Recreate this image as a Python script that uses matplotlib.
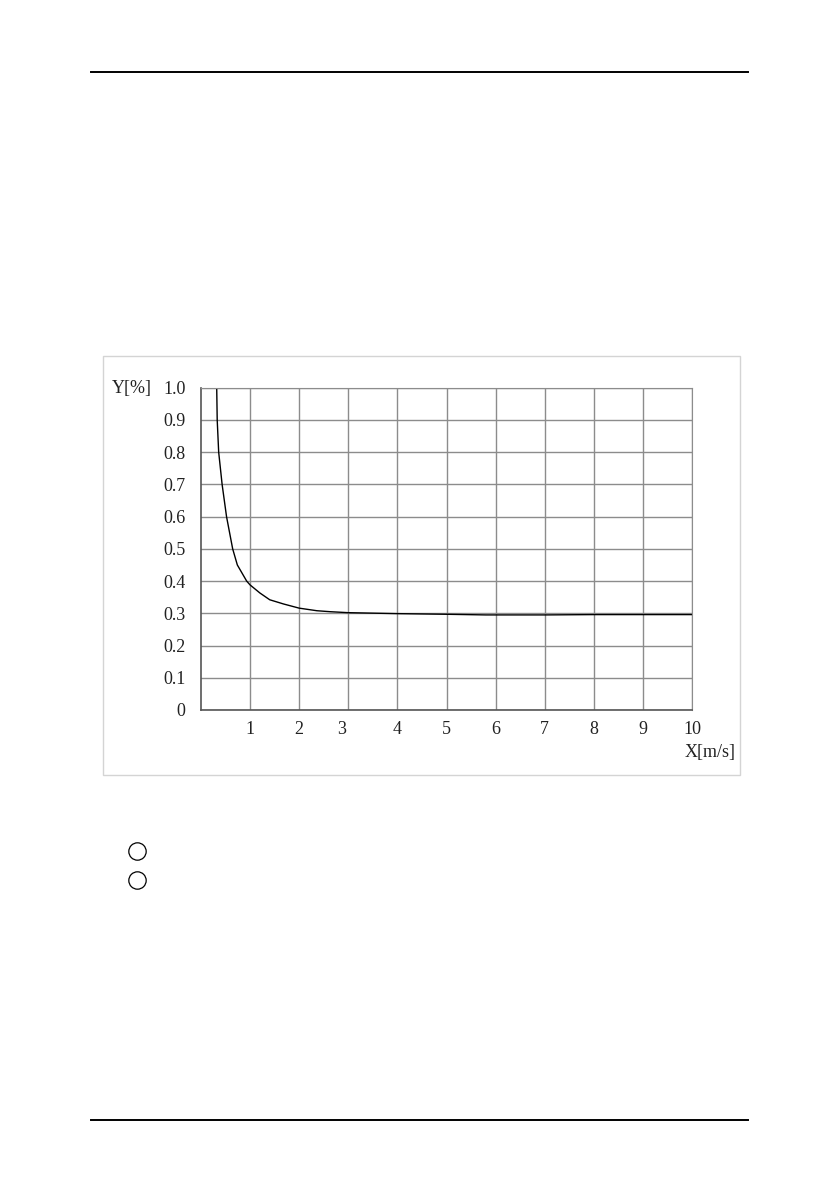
import matplotlib
matplotlib.use("Agg")
import matplotlib.pyplot as plt
import matplotlib.transforms as mtransforms
from matplotlib.lines import Line2D
from matplotlib.patches import Rectangle

W, H = 839, 1191

# curve
speed = [0.32, 0.33, 0.36, 0.43, 0.52, 0.645, 0.74, 0.93, 1.0, 1.2, 1.4,
         1.68, 2.0, 2.36, 2.63, 3.0, 4.0, 5.0, 5.8, 7.0, 8.0, 9.0, 10.0]
ratio = [1.0, 0.9, 0.8, 0.7, 0.6, 0.5, 0.45, 0.4, 0.388, 0.363, 0.342,
         0.329, 0.316, 0.308, 0.305, 0.302, 0.299, 0.297, 0.295, 0.295,
         0.296, 0.296, 0.296]

xticks = list(range(1, 11))
yticks = [0, 0.1, 0.2, 0.3, 0.4, 0.5, 0.6, 0.7, 0.8, 0.9, 1.0]
ylabels = ["0", "0.1", "0.2", "0.3", "0.4", "0.5", "0.6", "0.7", "0.8", "0.9", "1.0"]

plt.rcParams["font.family"] = ["Liberation Serif", "DejaVu Serif"]


def fx(px):
    return px / W


def fy(py):
    return 1 - py / H


fig = plt.figure(figsize=(W / 100, H / 100), dpi=100)

# page header / footer rules
fig.add_artist(Line2D([fx(91), fx(748)], [fy(72), fy(72)], color="black", lw=1.4))
fig.add_artist(Line2D([fx(91), fx(748)], [fy(1120), fy(1120)], color="black", lw=1.4))

# light frame around the figure
fig.add_artist(Rectangle((fx(103), fy(775)), fx(740) - fx(103), fy(356) - fy(775),
                         fill=False, edgecolor="#d4d4d4", lw=1.0))

ax = fig.add_axes([fx(201), fy(710), fx(692) - fx(201), fy(387.7) - fy(710)])
ax.plot(speed, ratio, color="black", lw=1.0)
ax.set_xlim(0, 10)
ax.set_ylim(0, 1.0)
ax.set_xticks(xticks)
ax.set_yticks(yticks)
ax.set_yticklabels(ylabels)
ax.grid(True, color="#8c8c8c", lw=1.0)
ax.set_axisbelow(True)
for side in ["top", "right"]:
    ax.spines[side].set_color("#8c8c8c")
for side in ["left", "bottom"]:
    ax.spines[side].set_color("#555555")
    ax.spines[side].set_linewidth(1.2)
ax.tick_params(axis="both", length=0, labelsize=13, colors="#222222")
ax.tick_params(axis="y", pad=11)
ax.tick_params(axis="x", pad=8)

# the "3" label sits a little left of its grid line in the original
lbl3 = ax.get_xticklabels()[2]
lbl3.set_transform(lbl3.get_transform() + mtransforms.ScaledTranslation(-0.07, 0, fig.dpi_scale_trans))

fig.text(fx(112), fy(389), "Y[%]", fontsize=13, ha="left", va="center", color="#222222")
fig.text(fx(736), fy(753), "X[m/s]", fontsize=13, ha="right", va="center", color="#222222")

# two empty circles below the figure
for cy in [851, 880]:
    fig.add_artist(Line2D([fx(137)], [fy(cy)], marker="o", markersize=12.5,
                          mfc="none", mec="black", mew=0.9, transform=fig.transFigure))

fig.savefig("out.png", dpi=100)
